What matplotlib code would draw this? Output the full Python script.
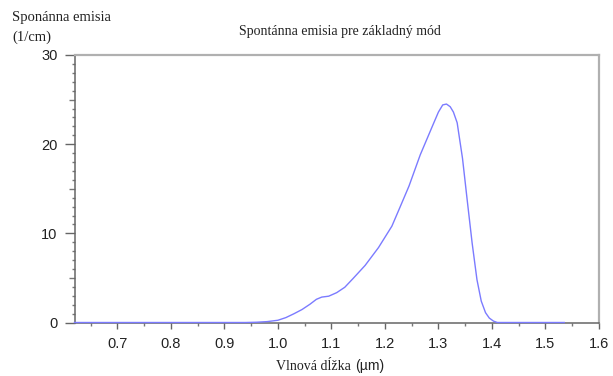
import numpy as np
import matplotlib
matplotlib.use("Agg")
import matplotlib.pyplot as plt

# wavelength (um) and spontaneous emission (1/cm)
wavelength = [0.62, 0.94, 0.96, 0.98, 1.00, 1.015, 1.03, 1.045, 1.06, 1.072,
              1.082, 1.095, 1.11, 1.125, 1.14, 1.163, 1.188, 1.213, 1.228, 1.245,
              1.266, 1.29, 1.30, 1.308, 1.315, 1.322, 1.328, 1.335, 1.345, 1.354,
              1.363, 1.372, 1.38, 1.388, 1.395, 1.403, 1.41, 1.535]
emission = [0, 0, 0.03, 0.1, 0.25, 0.55, 0.98, 1.45, 2.05, 2.6,
            2.85, 2.95, 3.35, 3.95, 4.9, 6.4, 8.4, 10.8, 12.9, 15.3,
            18.8, 22.2, 23.6, 24.4, 24.5, 24.2, 23.6, 22.4, 18.4, 13.6,
            8.9, 4.8, 2.4, 1.1, 0.5, 0.15, 0.0, 0]

xticks = [0.7, 0.8, 0.9, 1.0, 1.1, 1.2, 1.3, 1.4, 1.5, 1.6]
xtick_labels = ['0.7', '0.8', '0.9', '1.0', '1.1', '1.2', '1.3', '1.4', '1.5', '1.6']
yticks = [0, 10, 20, 30]

serif = ['Liberation Serif', 'DejaVu Serif']
sans = ['Liberation Sans', 'DejaVu Sans']

fig = plt.figure(figsize=(6.13, 3.76), dpi=100)
ax = fig.add_axes([75 / 613, 1 - 322.5 / 376, 524 / 613, 267.5 / 376])

ax.plot(wavelength, emission, color='#7b7bff', lw=1.0, zorder=5, clip_on=False)

ax.set_xlim(0.621, 1.6)
ax.set_ylim(0, 30)

ax.set_xticks(xticks)
ax.set_xticklabels(xtick_labels)
ax.set_xticks(np.arange(0.65, 1.56, 0.1), minor=True)
ax.set_yticks(yticks)
ax.set_yticks(np.arange(0, 31, 1), minor=True)

ax.tick_params(axis='both', which='major', direction='out', width=1,
               color='#666666', labelcolor='#222222', labelsize=10.5)
ax.tick_params(axis='x', which='major', length=4.3, pad=6)
ax.tick_params(axis='y', which='major', length=7.2, pad=5.5)
ax.tick_params(axis='both', which='minor', direction='out', length=2.5, width=1,
               color='#777777')
for lab in ax.get_xticklabels() + ax.get_yticklabels():
    lab.set_family(sans)

# half-decade ticks on y are a bit longer
for t, loc in zip(ax.yaxis.get_minor_ticks(), ax.yaxis.get_minorticklocs()):
    if round(loc) % 5 == 0:
        t.tick1line.set_markersize(4.3)

for side in ['left', 'bottom']:
    ax.spines[side].set_color('#666666')
    ax.spines[side].set_linewidth(1.1)
for side in ['top', 'right']:
    ax.spines[side].set_color('#b0b0b0')
    ax.spines[side].set_linewidth(1.6)

fig.text(340 / 613, 1 - 31 / 376, 'Spontánna emisia pre základný mód',
         ha='center', va='center', fontsize=10, family=serif, color='#222222')
fig.text(12 / 613, 1 - 18 / 376, 'Sponánna emisia', ha='left', va='center',
         fontsize=10.5, family=serif, color='#222222')
fig.text(12 / 613, 1 - 37 / 376, '(1/cm)', ha='left', va='center',
         fontsize=10.5, family=serif, color='#222222')
fig.text(351 / 613, 1 - 366 / 376, 'Vlnová dĺžka', ha='right', va='center',
         fontsize=10, family=serif, color='#222222')
fig.text(355 / 613, 1 - 366 / 376, '(µm)', ha='left', va='center',
         fontsize=10, family=sans, color='#222222')

fig.savefig('out.png', dpi=100)
